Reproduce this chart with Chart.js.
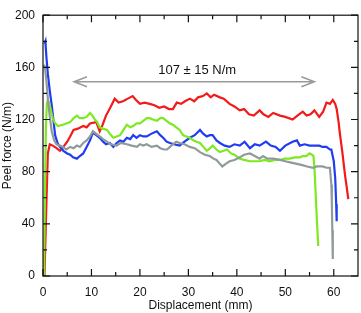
<!DOCTYPE html>
<html lang="en">
<head>
  <meta charset="UTF-8" />
  <title>Peel force vs displacement</title>
  <script src="https://cdn.jsdelivr.net/npm/chart.js"></script>
  <style>
    body { margin: 0; background: #fff; }
  </style>
</head>
<body>
  <canvas id="peelChart" width="361" height="313"></canvas>

  <script>
    // tick positions
    const xTicks = [0, 10, 20, 30, 40, 50, 60];
    const xMinor = [5, 15, 25, 35, 45, 55];
    const yTicks = [0, 40, 80, 120, 160, 200];
    const yMinor = [20, 60, 100, 140, 180];

    // red sample
    const redX = [0.3,0.75,1,1.4,2,2.8,3.5,4.2,5,5.6,6.3,7.2,8.3,9,9.7,11,11.7,12.3,13,14,14.8,15.6,16.5,17.5,18.5,19.2,20,21,22,23,24,25,26,26.8,27.6,28.5,29.3,30.3,31.2,32,33,33.8,34.6,35.3,36.5,37.3,38.5,39.5,40.6,41.5,42.5,43.5,44.7,45.5,46.5,47.5,48.9,50,51.5,52.5,53.6,54.4,55.2,56,57,57.8,58.5,59.2,59.8,60.3,60.6,61,61.2,61.8,62.3,62.6,63];
    const redY = [0,62,94,101,100,98,96,99,103,107,112,113,115,114,117,118,111,116,123,130,136,133,134,136,138,135,132,133,132,131,129,130,128,128,133,132,134,136,134,137,138,140,137,139,137,136,132,130,127,128,124,123,127,124,122,125,123,122,120,123,126,123,124,127,122,126,133,132,135,132,128,118,111,94,78,70,59];

    // blue sample
    const blueX = [0.3,0.5,0.7,1,1.4,1.8,2.2,2.5,3,3.5,4.2,5,5.6,6.2,7,7.6,8.3,9,9.7,10.3,11,11.7,12.4,13,13.8,14.5,15.2,15.9,16.6,17.3,18,18.6,19.3,20,20.7,21.4,22.3,23.5,24.2,24.8,25.5,26.2,27,28.2,29.2,30.3,31.3,32.4,33.1,33.8,34.4,35,35.8,36.5,37.5,38.5,39.5,40.6,41.6,42.7,43.7,44.7,46,47,48,48.9,50,51.5,52.4,53,54,55,56,57,57.7,58.5,59.2,59.5,60,60.3,60.5,60.6];
    const blueY = [178,180,168,155,142,131,118,108,102,99,96,94,93,91,90,92,94,99,104,110,108,106,103,101,102,99,102,104,103,106,105,108,106,108,107,107,109,111,108,106,103,102,101,100,103,106,108,112,109,107,108,108,104,102,100,99,101,100,103,98,101,100,103,100,99,96,100,103,104,100,101,100,100,100,99,99,97,97,88,75,55,42];

    // green sample
    const greenX = [0.2,0.4,0.6,0.8,1,1.4,2,2.5,3.1,4.1,4.8,5.6,6.3,7,7.6,8.3,9,9.7,10.2,10.7,11.2,11.7,12.4,13.2,13.8,14.5,15.2,15.9,16.6,17.3,18,18.6,19.3,20,20.7,21.4,22,22.7,23.5,24.2,24.8,25.5,26.2,26.8,27.5,28.2,28.9,29.6,30.3,31,31.7,32.4,33.1,33.8,34.5,35,35.8,36.5,37.3,38,38.8,39.5,40.6,41.5,42.7,43.7,44.7,45.7,46.8,47.8,48.9,49.9,50.9,52,53,53.6,54.3,55,55.5,55.8,56,56.3,56.5,56.8];
    const greenY = [0,60,115,132,135,131,121,117,115,116,117,118,121,123,121,121,122,125,123,120,118,114,113,112,109,106,107,108,112,116,114,115,117,117,119,121,121,120,119,121,121,119,117,116,114,112,108,107,106,104,103,102,99,96,98,100,97,95,96,97,94,93,90,89,88,88,88,89,88,89,89,90,90,91,91,92,92,94,93,92,84,60,44,23];

    // gray sample
    const grayX = [0.2,0.4,0.7,1,1.4,1.8,2.3,2.8,3.5,4.1,4.8,5.6,6.3,7,7.6,8.3,9,9.7,10.3,11,11.7,12.4,13.2,14,15.2,16,17.3,18.3,19.4,20,20.7,21.4,22.4,23.5,24.2,25,25.6,26.2,26.8,27.5,28.2,29.2,30.3,31.3,32.4,33.4,34.4,35.2,35.8,36.5,37,37.7,38.5,39.5,40.6,41.5,42.7,43.7,44.7,45.4,46.3,47.5,48.9,50,51.2,52.4,53.5,54.5,55.7,56.5,57.7,58.5,59.2,59.5,59.6,59.7,59.8];
    const grayY = [162,160,150,136,122,111,104,101,100,99,97,99,98,100,99,102,104,107,111,109,107,105,103,101,100,102,101,100,99,101,100,101,99,100,98,97,97,99,101,103,102,101,99,98,95,93,92,90,89,86,84,86,88,89,91,93,94,92,90,92,90,90,89,88,87,86,85,84,83,84,84,83,83,70,56,35,13];

    // annotation: mean +- sd over the steady range
    const rangeX = [6.4, 56];
    const rangeY = 149;
    const rangeText = '107 ± 15 N/m';

    const fontFamily = '"Liberation Sans", Arial, sans-serif';

    function toPoints(xs, ys) {
      return xs.map((x, i) => ({ x: x, y: ys[i] }));
    }

    // draws frame, inward ticks and the range arrow
    const framePlugin = {
      id: 'frame',
      afterDatasetsDraw(chart) {
        const { ctx, chartArea: a, scales: { x, y } } = chart;
        ctx.save();
        ctx.strokeStyle = '#111';
        ctx.lineWidth = 1.2;
        ctx.strokeRect(a.left, a.top, a.right - a.left, a.bottom - a.top);

        ctx.beginPath();
        const tickX = (vals, len) => vals.forEach(v => {
          const px = x.getPixelForValue(v);
          ctx.moveTo(px, a.bottom); ctx.lineTo(px, a.bottom - len);
          ctx.moveTo(px, a.top); ctx.lineTo(px, a.top + len);
        });
        const tickY = (vals, len) => vals.forEach(v => {
          const py = y.getPixelForValue(v);
          ctx.moveTo(a.left, py); ctx.lineTo(a.left + len, py);
          ctx.moveTo(a.right, py); ctx.lineTo(a.right - len, py);
        });
        tickX(xTicks, 7); tickX(xMinor, 4);
        tickY(yTicks, 7); tickY(yMinor, 4);
        ctx.stroke();

        // arrow
        const x1 = x.getPixelForValue(rangeX[0]);
        const x2 = x.getPixelForValue(rangeX[1]);
        const ay = y.getPixelForValue(rangeY);
        ctx.strokeStyle = '#9a9a9a';
        ctx.lineWidth = 1.5;
        ctx.beginPath();
        ctx.moveTo(x1, ay); ctx.lineTo(x2, ay);
        ctx.moveTo(x1 + 13, ay - 5); ctx.lineTo(x1, ay); ctx.lineTo(x1 + 13, ay + 5);
        ctx.moveTo(x2 - 13, ay - 5); ctx.lineTo(x2, ay); ctx.lineTo(x2 - 13, ay + 5);
        ctx.stroke();

        ctx.fillStyle = '#111';
        ctx.font = '13px ' + fontFamily;
        ctx.textAlign = 'center';
        ctx.textBaseline = 'middle';
        ctx.fillText(rangeText, (x1 + x2) / 2 + 3, ay - 11);
        ctx.restore();
      }
    };

    const lineSet = (xs, ys, color) => ({
      data: toPoints(xs, ys),
      borderColor: color,
      borderWidth: 2.2,
      pointRadius: 0,
      fill: false,
      tension: 0
    });

    const tickFont = { size: 12, family: fontFamily };

    new Chart(document.getElementById('peelChart'), {
      type: 'line',
      data: {
        datasets: [
          lineSet(grayX, grayY, '#8f9b9b'),
          lineSet(greenX, greenY, '#7ee820'),
          lineSet(blueX, blueY, '#1f3cf2'),
          lineSet(redX, redY, '#f21a1a')
        ]
      },
      options: {
        responsive: false,
        animation: false,
        layout: { padding: { top: 7, right: 3, left: 0, bottom: 0 } },
        plugins: { legend: { display: false }, tooltip: { enabled: false } },
        scales: {
          x: {
            type: 'linear',
            min: 0,
            max: 65,
            afterBuildTicks: (s) => { s.ticks = xTicks.map(v => ({ value: v })); },
            afterFit: (s) => { s.height = 37; },
            grid: { display: false, drawTicks: false },
            border: { display: false },
            ticks: { padding: 9, font: tickFont, color: '#111', maxRotation: 0, autoSkip: false },
            title: { display: true, text: 'Displacement (mm)', color: '#111', font: tickFont, padding: { top: 0, bottom: 0 } }
          },
          y: {
            min: 0,
            max: 200,
            afterBuildTicks: (s) => { s.ticks = yTicks.map(v => ({ value: v })); },
            afterFit: (s) => { s.width = 43; },
            grid: { display: false, drawTicks: false },
            border: { display: false },
            ticks: { padding: 8, font: tickFont, color: '#111', autoSkip: false },
            title: { display: true, text: 'Peel force (N/m)', color: '#111', font: tickFont, padding: { top: 0, bottom: 0 } }
          }
        }
      },
      plugins: [framePlugin]
    });
  </script>
</body>
</html>
